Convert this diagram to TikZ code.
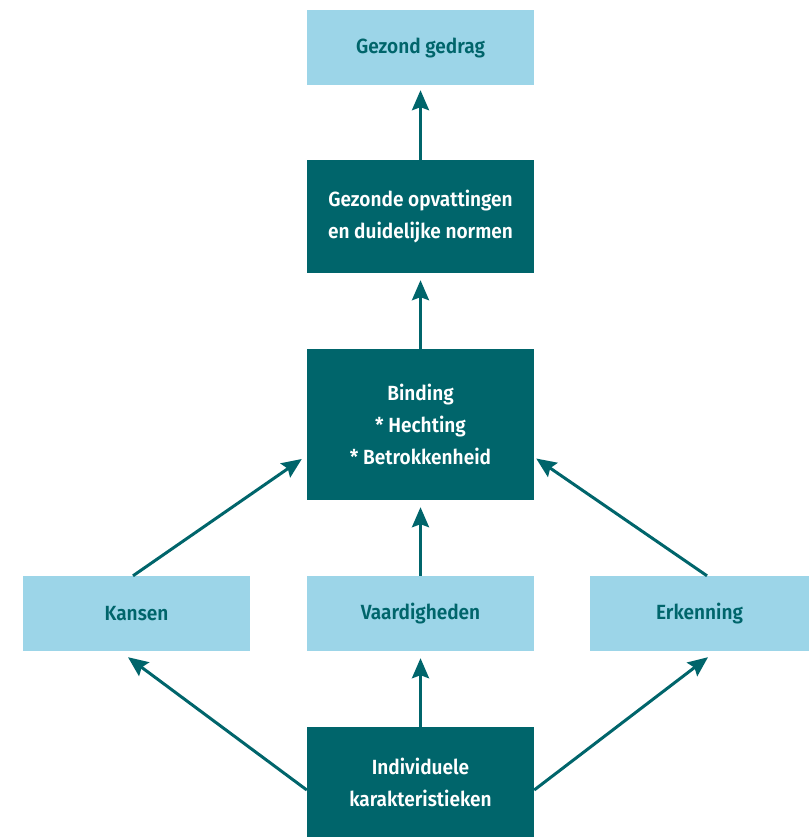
\documentclass[tikz,border=0pt]{standalone}
\usepackage{fontspec}
\setmainfont{Fira Sans}[UprightFont={* SemiBold},BoldFont={* Bold},FakeStretch=0.93]
\usetikzlibrary{arrows.meta,calc}
\definecolor{teal}{HTML}{00656B}
\definecolor{lightb}{HTML}{9CD5E8}
\begin{document}
\begin{tikzpicture}[x=1pt,y=-1pt,
  box/.style={rectangle, inner sep=0pt, align=center, font=\fontsize{20.5}{32}\selectfont},
  darkbox/.style={box, fill=teal, text=white},
  lightbox/.style={box, fill=lightb, text=teal},
  arr/.style={draw=teal, line width=3pt, -{Stealth[length=20pt,width=17pt,inset=3pt]}}]
\useasboundingbox (0,0) rectangle (809,837);
\node[lightbox, minimum width=227pt, minimum height=75pt] (gedrag) at (420.5,47.5) {Gezond gedrag};
\node[darkbox, minimum width=227pt, minimum height=113pt] (opv) at (420.5,216.5) {Gezonde opvattingen\\en duidelijke normen};
\node[darkbox, minimum width=227pt, minimum height=151pt] (binding) at (420.5,424.5) {Binding\\* Hechting\\* Betrokkenheid};
\node[lightbox, minimum width=227pt, minimum height=75pt] (kansen) at (136.5,613.5) {Kansen};
\node[lightbox, minimum width=227pt, minimum height=75pt] (vaard) at (420.5,613.5) {Vaardigheden};
\node[lightbox, minimum width=219pt, minimum height=75pt] (erk) at (699.5,613.5) {Erkenning};
\node[darkbox, minimum width=227pt, minimum height=110pt] (indiv) at (420.5,782) {Individuele\\karakteristieken};
\draw[arr] (opv.north) -- ($(gedrag.south)+(0,5)$);
\draw[arr] (binding.north) -- ($(opv.south)+(0,7)$);
\draw[arr] (vaard.north) -- ($(binding.south)+(0,7)$);
\draw[arr] (indiv.north) -- ($(vaard.south)+(0,7)$);
\draw[arr] ($(kansen.north)+(-3.5,0)$) -- ($(binding.west)+(-5,34.5)$);
\draw[arr] ($(erk.north)+(7.5,0)$) -- ($(binding.east)+(2,34)$);
\draw[arr] ($(indiv.west)+(0,8)$) -- ($(kansen.south)+(-8.5,6)$);
\draw[arr] ($(indiv.east)+(0,8)$) -- ($(erk.south)+(8.5,6)$);
\end{tikzpicture}
\end{document}
